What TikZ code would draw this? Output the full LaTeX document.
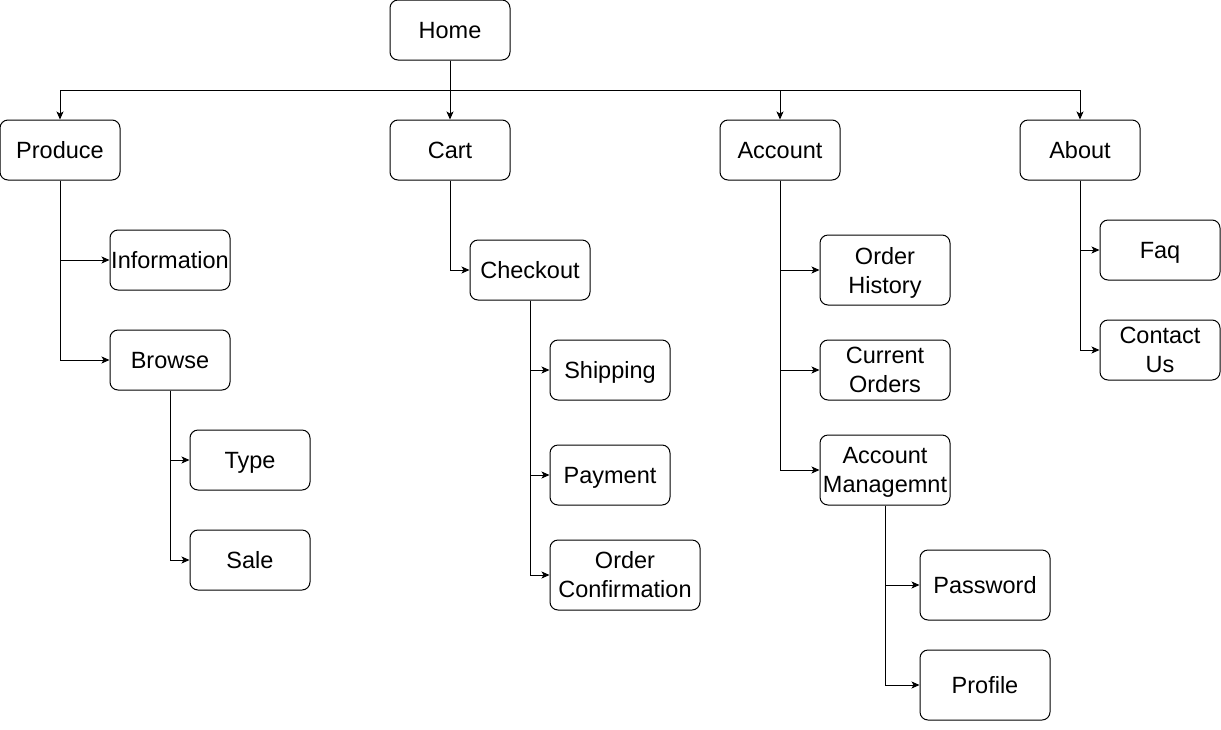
\documentclass[tikz,border=0pt]{standalone}
\usepackage{fontspec}
\setmainfont{Liberation Sans}
\usetikzlibrary{arrows.meta}
\begin{document}
\begin{tikzpicture}[x=1pt,y=-1pt,
  boxbase/.style={draw, rounded corners=8pt, line width=1pt, inner sep=0pt, font=\fontsize{23.5}{29}\selectfont},
  box/.style={boxbase, minimum width=120pt, minimum height=60pt, text height=17pt, text depth=0pt},
  box2/.style={boxbase, minimum width=130pt, minimum height=70pt, align=center},
  arr/.style={line width=1pt, -{Stealth[length=8pt,width=7pt,inset=2pt]}},
  ]
\useasboundingbox (0,0) rectangle (1221,729);
\node[box] (home) at (450,30) {Home};
\node[box] (produce) at (60,150) {Produce};
\node[box] (cart) at (450,150) {Cart};
\node[box] (account) at (780,150) {Account};
\node[box] (about) at (1080,150) {About};
\node[box] (info) at (170,260) {Information};
\node[box] (browse) at (170,360) {Browse};
\node[box] (type) at (250,460) {Type};
\node[box] (sale) at (250,560) {Sale};
\node[box] (checkout) at (530,270) {Checkout};
\node[box] (shipping) at (610,370) {Shipping};
\node[box] (payment) at (610,475) {Payment};
\node[box2, minimum width=150pt] (confirm) at (625,575) {Order\\Confirmation};
\node[box2] (history) at (885,270) {Order\\\smash{History}};
\node[box2, minimum height=60pt] (current) at (885,370) {Current\\Orders};
\node[box2] (manage) at (885,470) {Account\\\smash{Managemnt}};
\node[box2, text height=17pt, text depth=0pt] (password) at (985,585) {Password};
\node[box2, text height=17pt, text depth=0pt] (profile) at (985,685) {Profile};
\node[box] (faq) at (1160,250) {Faq};
\node[box2, minimum width=120pt, minimum height=60pt] (contact) at (1160,350) {Contact\\Us};
\coordinate (bus) at (450,90);
\draw[arr] (home.south) -- (cart.north);
\draw[arr] (home.south) -- (bus) -| (produce.north);
\draw[arr] (home.south) -- (bus) -| (account.north);
\draw[arr] (home.south) -- (bus) -| (about.north);
\draw[arr] (produce.south) |- (info.west);
\draw[arr] (produce.south) |- (browse.west);
\draw[arr] (browse.south) |- (type.west);
\draw[arr] (browse.south) |- (sale.west);
\draw[arr] (cart.south) |- (checkout.west);
\draw[arr] (checkout.south) |- (shipping.west);
\draw[arr] (checkout.south) |- (payment.west);
\draw[arr] (checkout.south) |- (confirm.west);
\draw[arr] (account.south) |- (history.west);
\draw[arr] (account.south) |- (current.west);
\draw[arr] (account.south) |- (manage.west);
\draw[arr] (manage.south) |- (password.west);
\draw[arr] (manage.south) |- (profile.west);
\draw[arr] (about.south) |- (faq.west);
\draw[arr] (about.south) |- (contact.west);
\end{tikzpicture}
\end{document}
